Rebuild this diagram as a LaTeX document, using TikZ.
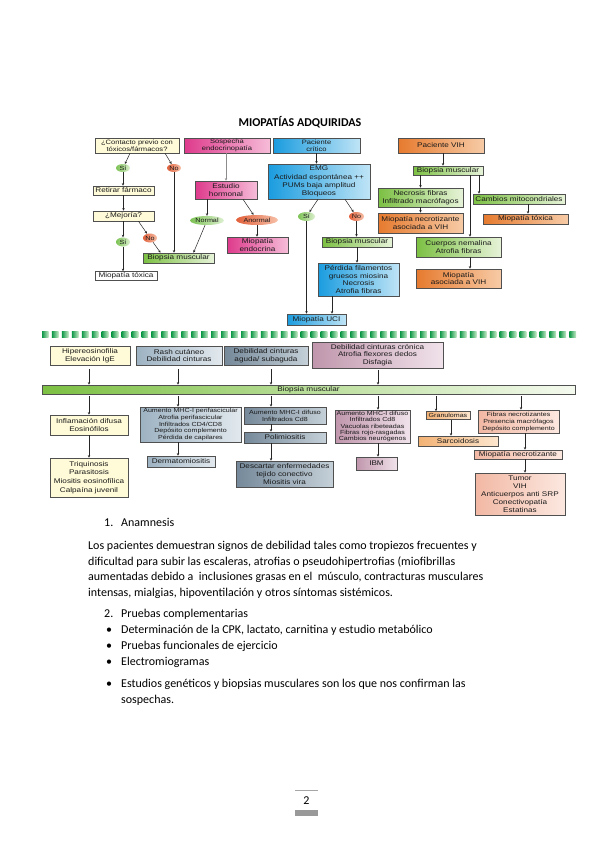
\documentclass[tikz,border=0pt]{standalone}
\usepackage{fontspec}
\setmainfont{Carlito}
\newfontfamily\dgw[FakeStretch=1.2]{Liberation Sans}
\usetikzlibrary{shapes.geometric,arrows.meta}
\definecolor{crm}{HTML}{FFFBD8}
\definecolor{grA}{HTML}{7CC043}\definecolor{grB}{HTML}{E6F3D8}
\definecolor{mgA}{HTML}{DE3A8C}\definecolor{mgB}{HTML}{F6BCD8}
\definecolor{blA}{HTML}{1A9CDF}\definecolor{blB}{HTML}{BFE4F6}
\definecolor{orA}{HTML}{E67A2E}\definecolor{orB}{HTML}{F7CBA6}
\definecolor{glA}{HTML}{9DB2C2}\definecolor{glB}{HTML}{E2E9EE}
\definecolor{gdA}{HTML}{75899A}\definecolor{gdB}{HTML}{C5D0D8}
\definecolor{mvA}{HTML}{C096AC}\definecolor{mvB}{HTML}{F0E2EA}
\definecolor{pcA}{HTML}{F3B274}\definecolor{pcB}{HTML}{FCE6CE}
\definecolor{slA}{HTML}{F2B8A4}\definecolor{slB}{HTML}{FCE8E0}
\definecolor{elgA}{HTML}{7CC254}\definecolor{elgB}{HTML}{DDF0D0}
\definecolor{elrA}{HTML}{E2603A}\definecolor{elrB}{HTML}{F6C0A8}
\definecolor{sqA}{HTML}{109848}\definecolor{sqB}{HTML}{C8EAC8}
\definecolor{brd}{HTML}{505050}
\definecolor{txt}{HTML}{1A1A1A}
\tikzset{
  x=1pt,y=-1pt,
  wh/.style 2 args={minimum width=#1pt,minimum height=#2pt},
  bx/.style={draw=brd,line width=0.6pt,inner sep=0pt,align=center,text=txt,
    font=\dgw\fontsize{6.8}{7.4}\selectfont},
  ld/.style={font=\dgw\fontsize{6.8}{#1}\selectfont},
  sm/.style={font=\dgw\fontsize{5.9}{#1}\selectfont},
  bcrm/.style={bx,fill=crm},
  bgr/.style={bx,left color=grA,right color=grB},
  bmg/.style={bx,left color=mgA,right color=mgB},
  bbl/.style={bx,left color=blA,right color=blB},
  bor/.style={bx,left color=orA,right color=orB},
  bgl/.style={bx,left color=glA,right color=glB},
  bgd/.style={bx,left color=gdA,right color=gdB},
  bmv/.style={bx,left color=mvA,right color=mvB},
  bpc/.style={bx,left color=pcA,right color=pcB},
  bsl/.style={bx,left color=slA,right color=slB},
  ell/.style={ellipse,inner sep=0pt,text=txt,font=\dgw\fontsize{6}{6}\selectfont},
  elg/.style={ell,left color=elgA,right color=elgB},
  elr/.style={ell,left color=elrA,right color=elrB},
  arr/.style={-{Stealth[length=2.6pt,width=2.4pt]},line width=0.5pt,draw=black!85},
  body/.style={anchor=base west,inner sep=0pt,font=\fontsize{12}{14}\selectfont}
}
\begin{document}
\begin{tikzpicture}
\useasboundingbox (0,0) rectangle (599,848);
\fill[white] (0,0) rectangle (599,848);

\node[inner sep=0pt,font=\bfseries\fontsize{12}{14}\selectfont] (title) at (300,122) {MIOPATÍAS ADQUIRIDAS};

% ---------- left column
\node[bcrm,wh={84}{15},font=\dgw\fontsize{6.3}{6.6}\selectfont] (c1) at (137,145.5) {¿Contacto previo con\\tóxicos/fármacos?};
\node[elg,wh={14}{8}] (s1) at (123,168) {Sí};
\node[elr,wh={14}{8}] (n1) at (174,168) {No};
\node[bcrm,wh={61}{9}] (rf) at (123.5,190.5) {Retirar fármaco};
\node[bcrm,wh={61}{10}] (mj) at (123.5,216) {¿Mejoría?};
\node[elg,wh={14}{9}] (s2) at (123,242) {Sí};
\node[elr,wh={14}{9}] (n2) at (150,238) {No};
\node[bgr,wh={71}{10}] (bm1) at (178.5,258) {Biopsia muscular};
\node[bx,fill=white,wh={62}{9}] (mt1) at (126,276) {Miopatía tóxica};

% ---------- pink column
\node[bmg,wh={86}{15},font=\dgw\fontsize{6.3}{6.6}\selectfont] (se) at (227,145.5) {Sospecha\\endocrinopatía};
\node[bmg,wh={62}{18},ld=7.8] (eh) at (226,190) {Estudio\\hormonal};
\node[elg,wh={34}{9}] (nor) at (207,220.5) {Normal};
\node[elr,wh={42}{10}] (anor) at (257,220) {Anormal};
\node[bmg,wh={61}{16},ld=7.2] (me) at (257.5,245) {Miopatía\\endocrina};

% ---------- blue column
\node[bbl,wh={87}{15},font=\dgw\fontsize{6.3}{6.6}\selectfont] (pc) at (316.5,145.5) {Paciente\\crítico};
\node[bbl,wh={102}{35},ld=8.2] (emg) at (319,181.5) {EMG\\Actividad espontánea ++\\PUMs baja amplitud\\Bloqueos};
\node[elg,wh={17}{9}] (s3) at (306.5,216.5) {Sí};
\node[elr,wh={15}{9}] (n3) at (356.5,216.5) {No};
\node[bgr,wh={70}{10}] (bm2) at (357,242) {Biopsia muscular};
\node[bbl,wh={81}{33},ld=7.8] (pf) at (358.5,279.5) {Pérdida filamentos\\gruesos miosina\\Necrosis\\Atrofia fibras};
\node[bbl,wh={59}{11}] (uci) at (316.5,319.5) {Miopatía UCI};

% ---------- orange column
\node[bor,wh={86}{15}] (vih) at (441,145.5) {Paciente VIH};
\node[bgr,wh={70}{9}] (bm3) at (448,170.5) {Biopsia muscular};
\node[bgr,wh={85}{19},ld=7.8] (nf) at (420.5,197.5) {Necrosis fibras\\Infiltrado macrófagos};
\node[bor,wh={85}{20},ld=7.8] (mn) at (420.5,223) {Miopatía necrotizante\\asociada a VIH};
\node[bgr,wh={92}{10}] (cm) at (519,199) {Cambios mitocondriales};
\node[bor,wh={85}{10}] (mtx) at (525.5,219) {Miopatía tóxica};
\node[bgr,wh={85}{20},ld=7.8] (cn) at (458.5,247) {Cuerpos nemalina\\Atrofia fibras};
\node[bor,wh={85}{19},ld=7.8] (mav) at (458.5,278.5) {Miopatía\\asociada a VIH};

% x reference coordinates
\foreach \v in {89,178,271,332,378,436,443,451,470,479,521,525,528}{\coordinate (X\v) at (\v,0);}

% ---------- top arrows
\draw[arr] ([xshift=-7pt]c1.south) -- (s1);
\draw[arr] ([xshift=28pt]c1.south) -- (n1);
\draw[arr] (s1.south) -- (s1.south |- rf.north);
\draw[arr] (rf.south) -- (mj.north);
\draw[arr] (mj.south -| s2) -- (s2.north);
\draw[arr] ([xshift=15pt]mj.south) -- (n2);
\draw[arr] (s2.south) -- (s2.south |- mt1.north);
\draw[arr] (n2) -- ([xshift=-18pt]bm1.north);
\draw[arr] (n1.south) -- (n1.south |- bm1.north);
\draw[arr] (nor) -- ([xshift=15pt]bm1.north);
\draw[arr,draw=black!45] (se.south -| eh) -- (eh.north);
\draw[arr] (eh.south -| nor) -- (nor.north);
\draw[arr] ([xshift=17pt]eh.south) -- (anor);
\draw[arr] (anor.south) -- (anor.south |- me.north);
\draw[arr] (pc.south) -- (pc.south |- emg.north);
\draw[arr] ([xshift=-1pt]emg.south) -- (s3);
\draw[arr] ([xshift=26pt]emg.south) -- (n3);
\draw[arr] (s3.south) -- (s3.south |- uci.north);
\draw[arr] (n3.south) -- (n3.south |- bm2.north);
\draw[arr] (bm2.south) -- (bm2.south |- pf.north);
\draw[arr] (pf.south -| X332) -- (uci.north -| X332);
\draw[arr] (vih.south -| X443) -- (bm3.north -| X443);
\draw[arr] (bm3.south -| nf) -- (nf.north);
\draw[arr] (bm3.south -| X470) -- (cn.north -| X470);
\draw[arr] (bm3.south -| X479) -- (cm.north -| X479);
\draw[arr] (nf.south) -- (mn.north);
\draw[arr] (cm.south -| X528) -- (mtx.north -| X528);
\draw[arr] (cn.south -| X470) -- (mav.north -| X470);

% ---------- dashed green band
\foreach \i in {0,...,53}{\fill[left color=sqA,right color=sqB] ({42+9.95*\i},331.5) rectangle ++(6.7,5.5);}

% ---------- lower section
\node[bcrm,wh={80}{19},ld=7.8] (hip) at (90,355.5) {Hipereosinofilia\\Elevación IgE};
\node[bgl,wh={86}{19},ld=7.8] (rash) at (179,355.5) {Rash cutáneo\\Debilidad cinturas};
\node[bgd,wh={84}{19},ld=7.8] (agu) at (266,355.5) {Debilidad cinturas\\aguda/ subaguda};
\node[bmv,wh={131}{26},ld=7.6] (cro) at (377.5,355) {Debilidad cinturas crónica\\Atrofia flexores dedos\\Disfagia};
\node[bx,left color=grA,right color=grB!40!white,wh={533}{9}] (bar) at (308.5,389.5) {Biopsia muscular};

\node[bcrm,wh={78}{20},ld=8] (infl) at (89,425) {Inflamación difusa\\Eosinófilos};
\node[bcrm,wh={78}{39},ld=8.6] (triq) at (89,477.5) {Triquinosis\\Parasitosis\\Miositis eosinofílica\\Calpaína juvenil};
\node[bgl,wh={101}{35},sm=6.6] (peri) at (190.5,424.5) {Aumento MHC-I perifascicular\\Atrofia perifascicular\\Infiltrados CD4/CD8\\Depósito complemento\\Pérdida de capilares};
\node[bgl,wh={68}{11}] (derm) at (181,461.5) {Dermatomiositis};
\node[bgd,wh={82}{17},sm=6.8] (mhcd) at (285,415.5) {Aumento MHC-I difuso\\Infiltrados Cd8};
\node[bgd,wh={82}{11}] (poli) at (285,437.5) {Polimiositis};
\node[bgd,wh={97}{26},ld=7.8] (desc) at (284.5,474) {Descartar enfermedades\\tejido conectivo\\Miositis vira};
\node[bmv,wh={75}{33},sm=6.3] (ibmd) at (372.5,426.5) {Aumento MHC-I difuso\\Infiltrados Cd8\\Vacuolas ribeteadas\\Fibras rojo-rasgadas\\Cambios neurógenos};
\node[bmv,wh={41}{13}] (ibm) at (376.5,463.5) {IBM};
\node[bpc,wh={44}{8},sm=6] (gran) at (448,415.5) {Granulomas};
\node[bpc,wh={80}{10}] (sarc) at (458,441) {Sarcoidosis};
\node[bsl,wh={81}{23},sm=7] (fnec) at (518.5,421.5) {Fibras necrotizantes\\Presencia macrófagos\\Depósito complemento};
\node[bsl,wh={88}{9}] (mnec) at (518,454.5) {Miopatía necrotizante};
\node[bsl,wh={90}{42},ld=8] (tum) at (520,494) {Tumor\\VIH\\Anticuerpos anti SRP\\Conectivopatía\\Estatinas};

\draw[arr,shorten <=4pt] (hip.south -| X89) -- (bar.north -| X89);
\draw[arr,shorten <=4pt] (rash.south -| X178) -- (bar.north -| X178);
\draw[arr,shorten <=4pt] (agu.south -| X271) -- (bar.north -| X271);
\draw[arr,shorten <=2pt] (cro.south -| X378) -- (bar.north -| X378);
\draw[arr,shorten <=2pt] (bar.south -| X89) -- (infl.north -| X89);
\draw[arr,shorten <=2pt] (bar.south -| X178) -- (peri.north -| X178);
\draw[arr,shorten <=2pt] (bar.south -| X271) -- (mhcd.north -| X271);
\draw[arr,shorten <=2pt] (bar.south -| X378) -- (ibmd.north -| X378);
\draw[arr,shorten <=2pt] (bar.south -| X436) -- (gran.north -| X436);
\draw[arr,shorten <=2pt] (bar.south -| X521) -- (fnec.north -| X521);
\draw[arr] (infl.south) -- (triq.north);
\draw[arr] (peri.south -| X178) -- (derm.north -| X178);
\draw[arr] (mhcd.south -| X271) -- (poli.north -| X271);
\draw[arr] (poli.south -| X271) -- (desc.north -| X271);
\draw[arr] (ibmd.south -| X378) -- (ibm.north -| X378);
\draw[arr] (gran.south -| X451) -- (sarc.north -| X451);
\draw[arr] (fnec.south -| X525) -- (mnec.north -| X525);
\draw[arr] (mnec.south -| X525) -- (tum.north -| X525);

% ---------- body text
\node[body] (l1n) at (104,526) {1.};
\node[body] (l1) at (121,526) {Anamnesis};
\node[body] (p1) at (88,549) {Los pacientes demuestran signos de debilidad tales como tropiezos frecuentes y};
\node[body] (p2) at (88,565) {dificultad para subir las escaleras, atrofias o pseudohipertrofias (miofibrillas};
\node[body] (p3) at (88,580.5) {aumentadas debido a\ \ inclusiones grasas en el\ \ músculo, contracturas musculares};
\node[body] (p4) at (88,596) {intensas, mialgias, hipoventilación y otros síntomas sistémicos.};
\node[body] (l2n) at (104,617) {2.};
\node[body] (l2) at (121,617) {Pruebas complementarias};
\node[body] (b1d) at (106,633) {•};
\node[body] (b1) at (121,633) {Determinación de la CPK, lactato, carnitina y estudio metabólico};
\node[body] (b2d) at (106,649) {•};
\node[body] (b2) at (121,649) {Pruebas funcionales de ejercicio};
\node[body] (b3d) at (106,665) {•};
\node[body] (b3) at (121,665) {Electromiogramas};
\node[body] (b4d) at (106,687) {•};
\node[body] (b4) at (121,687) {Estudios genéticos y biopsias musculares son los que nos confirman las};
\node[body] (b4b) at (121,703) {sospechas.};

% ---------- page number
\draw[line width=0.8pt,draw=black!35] (295,790) -- (318,790);
\node[inner sep=0pt,font=\fontsize{12}{14}\selectfont] (pg) at (306.5,801) {2};
\fill[black!40] (295,810) rectangle (318,816);
\end{tikzpicture}
\end{document}
